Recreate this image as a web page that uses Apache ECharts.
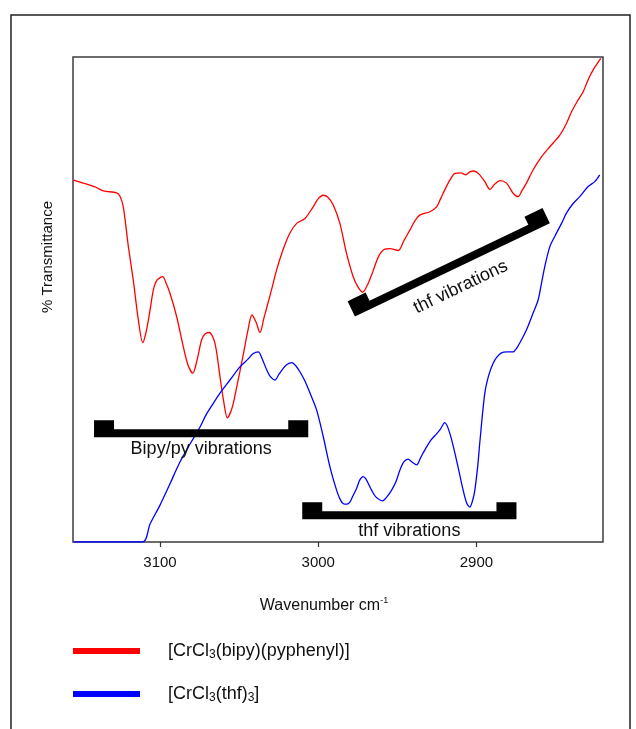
<!DOCTYPE html>
<html>
<head>
<meta charset="utf-8">
<script src="https://cdn.jsdelivr.net/npm/echarts@6/dist/echarts.min.js"></script>
<style>
  html, body { margin: 0; padding: 0; background: #fff; }
  #chart { width: 636px; height: 729px; }
</style>
</head>
<body>
<div id="chart"></div>
<script>
// IR spectra, C–H stretching region (wavenumber in cm-1, transmittance in arbitrary %)
const redWavenumber = [
  3154.6,3148.6,3141.1,3135.8,3127.4,3125.3,3123.2,3120.0,3116.9,3113.7,
  3110.9,3108.8,3106.3,3104.2,3101.9,3098.3,3096.2,3093.7,3089.5,3085.3,
  3082.3,3079.3,3076.6,3073.7,3071.6,3068.9,3065.3,3062.1,3059.9,3057.4,
  3054.5,3051.5,3047.4,3044.4,3041.9,3039.4,3036.8,3034.3,3032.4,3029.2,
  3026.3,3022.3,3017.9,3013.6,3008.4,3003.2,3000.2,2996.8,2993.9,2990.5,
  2986.3,2982.1,2977.9,2974.9,2971.9,2968.6,2965.3,2961.7,2957.9,2954.7,
  2949.5,2945.9,2942.1,2938.9,2935.8,2929.4,2925.2,2922.5,2920.0,2916.8,
  2913.6,2909.9,2906.7,2904.2,2901.6,2898.5,2894.7,2891.5,2888.4,2885.2,
  2881.0,2876.8,2873.7,2871.3,2868.4,2864.2,2858.9,2853.6,2847.3,2843.1,
  2839.9,2835.8,2832.6,2829.4,2826.3,2821.4
];
const redTransmittance = [
  74.6,74.0,73.2,72.4,72.0,71.3,69.1,60.9,54.0,45.8,
  41.1,43.3,47.8,52.0,54.0,54.7,53.4,51.3,46.5,40.3,
  36.5,34.8,37.5,41.7,42.9,43.2,41.0,34.1,29.3,25.6,
  27.6,32.0,38.6,43.7,46.8,45.4,43.2,46.2,48.5,52.4,
  56.1,60.2,63.7,65.7,66.7,69.1,70.7,71.5,71.1,69.5,
  65.7,59.5,54.7,52.6,51.5,53.2,55.9,59.0,60.4,60.5,
  60.1,62.1,64.3,66.2,67.4,68.1,69.1,70.9,72.6,74.6,
  76.0,76.1,75.7,76.3,76.5,75.9,74.3,72.7,73.8,74.5,
  74.0,71.9,71.2,72.4,74.0,76.7,79.4,81.5,83.9,86.3,
  88.7,91.1,92.8,95.3,97.3,99.7
];

const blueWavenumber = [
  3154.6,3111.1,3106.3,3100.0,3093.7,3087.4,3081.0,3075.2,3070.9,3066.3,
  3062.1,3055.8,3049.5,3044.4,3041.3,3037.9,3035.6,3032.6,3030.5,3027.4,
  3024.8,3022.1,3019.8,3016.8,3014.1,3011.6,3008.4,3005.2,3001.0,2996.8,
  2992.6,2988.4,2986.3,2984.1,2981.9,2980.0,2978.1,2975.7,2973.7,2971.6,
  2969.9,2966.3,2963.6,2959.3,2956.6,2953.6,2950.9,2948.4,2945.9,2943.2,
  2940.8,2937.8,2935.1,2931.5,2928.8,2926.3,2923.1,2920.0,2916.8,2912.6,
  2908.4,2906.1,2904.2,2902.3,2901.0,2899.1,2897.9,2894.7,2892.2,2889.5,
  2887.1,2884.2,2880.8,2877.0,2874.5,2871.5,2868.4,2866.3,2864.2,2861.0,
  2858.9,2856.8,2853.6,2850.5,2846.2,2843.1,2838.9,2834.7,2829.4,2825.2,
  2822.1
];
const blueTransmittance = [
  0,0,3.7,7.6,12.0,16.5,20.2,23.4,26.2,28.6,
  30.7,33.4,36.1,37.7,38.8,39.2,37.9,35.5,34.2,33.4,
  34.6,35.8,36.6,37.0,36.3,35.1,33.2,30.7,27.2,21.7,
  15.5,10.7,8.9,7.9,7.8,8.2,9.5,11.1,12.8,13.5,
  13.0,10.7,9.3,8.5,9.3,10.7,12.4,14.8,16.5,17.1,
  16.5,15.9,17.5,19.6,21.0,21.9,23.1,24.6,22.4,16.9,
  10.7,8.0,7.2,8.7,10.7,15.9,20.4,30.7,34.4,36.8,
  38.1,39.0,39.2,39.2,40.0,41.7,43.7,45.4,47.2,49.9,
  53.3,56.8,60.9,63.0,65.7,67.8,69.8,71.2,73.3,74.3,
  75.7
];

// x-axis ticks
const tickValues = [2900, 3000, 3100];

// band assignments: bracket from / to (wavenumber, transmittance) and caption
const bracketFrom   = [[3141.7, 21.6], [3010.1, 4.7], [2976.8, 46.5]];
const bracketTo     = [[3006.3, 21.6], [2874.7, 4.7], [2853.6, 65.7]];
const bracketLabels = ['Bipy/py vibrations', 'thf vibrations', 'thf vibrations'];

// series names and their legend captions (with subscripts)
const seriesNames   = ['[CrCl3(bipy)(pyphenyl)]', '[CrCl3(thf)3]'];
const legendCaption = {
  '[CrCl3(bipy)(pyphenyl)]': '[CrCl{sub|3}(bipy)(pyphenyl)]',
  '[CrCl3(thf)3]': '[CrCl{sub|3}(thf){sub|3}]'
};

const FONT = '"Liberation Sans", Arial, Helvetica, sans-serif';
const LABEL_GAP = [12, 12, 19];

function pairs(xs, ys) { return xs.map((x, i) => [x, ys[i]]); }

const chart = echarts.init(document.getElementById('chart'), null, { renderer: 'canvas' });

chart.setOption({
  animation: false,
  backgroundColor: '#fff',
  grid: {
    left: 73, right: 33, top: 57, bottom: 187,
    show: true, borderColor: '#3c3c3c', borderWidth: 1.5, backgroundColor: 'transparent'
  },
  xAxis: {
    type: 'value',
    inverse: true,
    min: 2820, max: 3155,
    axisLine: { show: false },
    splitLine: { show: false },
    axisTick: { show: true, inside: false, length: 5, customValues: tickValues, lineStyle: { color: '#333', width: 1.2 } },
    axisLabel: {
      customValues: tickValues, margin: 13, fontSize: 15, fontFamily: FONT, color: '#111',
      formatter: v => String(v)
    },
    name: 'Wavenumber cm{sup|-1}',
    nameLocation: 'middle',
    nameGap: 54,
    nameTextStyle: {
      fontSize: 16, fontFamily: FONT, color: '#111', lineHeight: 20, padding: [0, 28, 0, 0],
      rich: { sup: { fontSize: 9, fontFamily: FONT, color: '#111', verticalAlign: 'top', lineHeight: 20 } }
    }
  },
  yAxis: {
    type: 'value',
    min: 0, max: 100,
    axisLine: { show: false },
    axisTick: { show: false },
    axisLabel: { show: false },
    splitLine: { show: false }
  },
  legend: {
    orient: 'vertical',
    left: 73, top: 641, padding: 0,
    itemWidth: 67, itemHeight: 6, itemGap: 23,
    icon: 'rect',
    data: seriesNames,
    formatter: name => legendCaption[name],
    textStyle: {
      fontSize: 18, fontFamily: FONT, color: '#111', lineHeight: 20, padding: [0, 0, 0, 23],
      rich: { sub: { fontSize: 12, fontFamily: FONT, color: '#111', verticalAlign: 'bottom', lineHeight: 20 } }
    },
    selectedMode: false
  },
  graphic: [
    {
      type: 'rect', silent: true,
      shape: { x: 11, y: 15, width: 619, height: 740 },
      style: { fill: 'none', stroke: '#222', lineWidth: 1.5 }
    },
    {
      type: 'text', silent: true,
      x: 48, y: 257, rotation: Math.PI / 2,
      style: { text: '% Transmittance', fontSize: 15, fontFamily: FONT, fill: '#111', align: 'center', verticalAlign: 'middle' }
    }
  ],
  series: [
    {
      name: seriesNames[0], type: 'line', color: '#ff0000',
      data: pairs(redWavenumber, redTransmittance),
      showSymbol: false, symbol: 'none', smooth: 0.3,
      lineStyle: { color: '#ff0000', width: 1.3 }, z: 3
    },
    {
      name: seriesNames[1], type: 'line', color: '#0000ff',
      data: pairs(blueWavenumber, blueTransmittance),
      showSymbol: false, symbol: 'none', smooth: 0.3,
      lineStyle: { color: '#0000ff', width: 1.3 }, z: 3
    },
    {
      type: 'custom', coordinateSystem: 'cartesian2d', silent: true, z: 4,
      data: bracketFrom.map((f, i) => [f[0], f[1], bracketTo[i][0], bracketTo[i][1], i]),
      encode: { x: [0, 2], y: [1, 3] },
      renderItem: function (params, api) {
        const a = api.coord([api.value(0), api.value(1)]);
        const b = api.coord([api.value(2), api.value(3)]);
        const idx = api.value(4);
        const dx = b[0] - a[0], dy = b[1] - a[1];
        const len = Math.hypot(dx, dy);
        const ang = Math.atan2(dy, dx);
        const W = 20, H = 17, T = 8;
        return {
          type: 'group',
          x: a[0], y: a[1], rotation: -ang,
          children: [
            {
              type: 'polygon',
              shape: { points: [[0, 0], [len, 0], [len, -H], [len - W, -H], [len - W, -T], [W, -T], [W, -H], [0, -H]] },
              style: { fill: '#000' }
            },
            {
              type: 'text',
              x: len / 2, y: LABEL_GAP[idx],
              style: { text: bracketLabels[idx], fontSize: 18, fontFamily: FONT, fill: '#111', align: 'center', verticalAlign: 'middle' }
            }
          ]
        };
      }
    }
  ]
});
</script>
</body>
</html>
